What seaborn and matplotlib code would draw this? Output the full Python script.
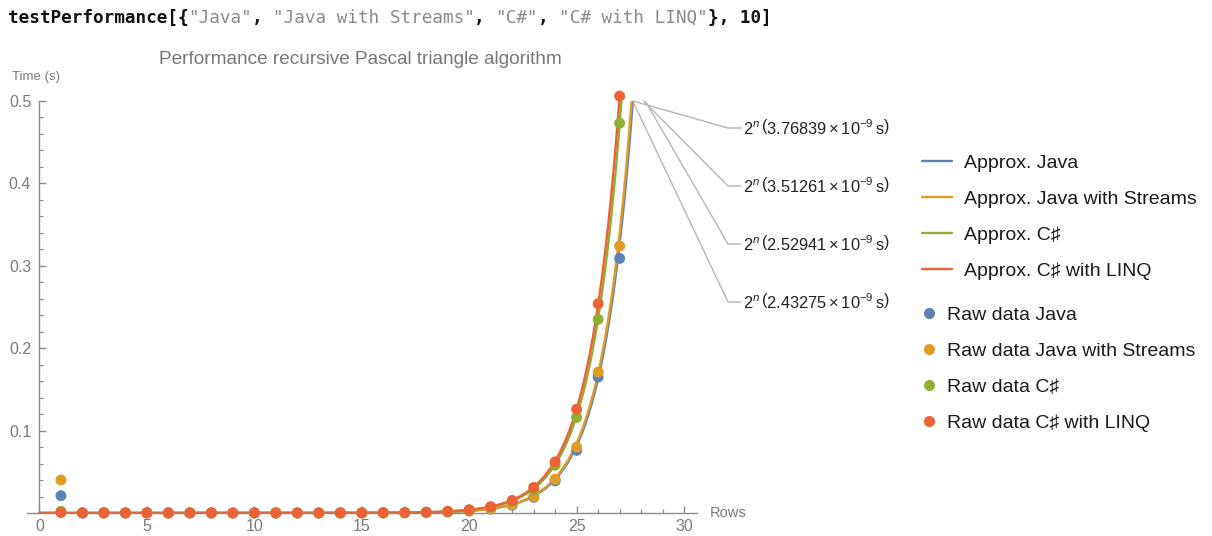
import numpy as np
import pandas as pd
import matplotlib
matplotlib.use("Agg")
import matplotlib.pyplot as plt
from matplotlib.lines import Line2D
from matplotlib.transforms import IdentityTransform
import seaborn as sns

# ---- data -------------------------------------------------------------
rows = list(range(1, 28))

java = [0.021, 0.0001, 0.0001, 0.0001, 0.0001, 0.0001, 0.0001, 0.0001, 0.0001,
        0.0001, 0.0001, 0.0001, 0.0001, 0.0001, 0.0001, 0.0002, 0.0003, 0.0006,
        0.0012, 0.0024, 0.0048, 0.0094, 0.019, 0.039, 0.076, 0.165, 0.309]
java_streams = [0.040, 0.0001, 0.0001, 0.0001, 0.0001, 0.0001, 0.0001, 0.0001, 0.0001,
                0.0001, 0.0001, 0.0001, 0.0001, 0.0001, 0.0001, 0.0002, 0.0003, 0.0007,
                0.0013, 0.0026, 0.0050, 0.0099, 0.020, 0.041, 0.080, 0.171, 0.324]
csharp = [0.002, 0.0001, 0.0001, 0.0001, 0.0001, 0.0001, 0.0001, 0.0001, 0.0001,
          0.0001, 0.0001, 0.0001, 0.0001, 0.0001, 0.0002, 0.0003, 0.0005, 0.0009,
          0.0018, 0.0036, 0.0071, 0.0141, 0.028, 0.058, 0.116, 0.235, 0.473]
csharp_linq = [0.0005, 0.0001, 0.0001, 0.0001, 0.0001, 0.0001, 0.0001, 0.0001, 0.0001,
               0.0001, 0.0001, 0.0001, 0.0001, 0.0001, 0.0002, 0.0003, 0.0005, 0.0010,
               0.0020, 0.0039, 0.0077, 0.0152, 0.031, 0.062, 0.126, 0.254, 0.506]

series_names = ["Java", "Java with Streams", "C\u266f", "C\u266f with LINQ"]
raw_values = [java, java_streams, csharp, csharp_linq]

# fitted constants of t(n) = 2^n * c
fit_consts = [2.43275e-9, 2.52941e-9, 3.51261e-9, 3.76839e-9]
fit_labels = ["3.76839", "3.51261", "2.52941", "2.43275"]   # top to bottom

colors = ["#5E81B5", "#E19C24", "#8FB032", "#EB6235"]

y_max = 0.5
x_lo, x_hi = -0.58, 30.6

# ---- frames for seaborn ------------------------------------------------
raw_df = pd.concat(
    [pd.DataFrame({"n": rows, "t": vals, "series": name})
     for name, vals in zip(series_names, raw_values)],
    ignore_index=True)

fit_frames = []
for name, c in zip(series_names, fit_consts):
    n_end = np.log2(y_max / c)
    n = np.linspace(0, n_end, 600)
    fit_frames.append(pd.DataFrame({"n": n, "t": c * 2.0 ** n, "series": name}))
fit_df = pd.concat(fit_frames, ignore_index=True)

palette = dict(zip(series_names, colors))

# ---- style ---------------------------------------------------------------
sns.set_style("white")
plt.rcParams["font.family"] = ["Liberation Sans", "DejaVu Sans"]
plt.rcParams["mathtext.fontset"] = "custom"
plt.rcParams["mathtext.rm"] = "Liberation Sans"
plt.rcParams["mathtext.it"] = "Liberation Sans:italic"

W, H = 1212, 536
fig = plt.figure(figsize=(W / 100, H / 100), dpi=100)

x0_px, x1_px = 27, 697
y0_px, y1_px = 513, 101
ax = fig.add_axes([x0_px / W, (H - y0_px) / H, (x1_px - x0_px) / W, (y0_px - y1_px) / H])

sns.lineplot(data=fit_df, x="n", y="t", hue="series", hue_order=series_names,
             palette=palette, linewidth=1.7, legend=False, ax=ax, sort=True)
sns.scatterplot(data=raw_df, x="n", y="t", hue="series", hue_order=series_names,
                palette=palette, s=62, edgecolor="none", linewidth=0,
                legend=False, ax=ax, clip_on=False, zorder=5)

ax.set_xlim(x_lo, x_hi)
ax.set_ylim(0, y_max)
ax.set_xlabel("")
ax.set_ylabel("")

axis_gray = "#8a8a8a"
label_gray = "#7a7a7a"
for side in ("top", "right"):
    ax.spines[side].set_visible(False)
ax.spines["left"].set_position(("data", 0))
for side in ("left", "bottom"):
    ax.spines[side].set_color(axis_gray)
    ax.spines[side].set_linewidth(1.0)

ax.set_xticks(np.arange(0, 31, 5))
ax.set_xticks(np.arange(0, 31, 1), minor=True)
ax.set_yticks([0.1, 0.2, 0.3, 0.4, 0.5])
ax.set_yticklabels(["0.1", "0.2", "0.3", "0.4", "0.5"])
ax.set_yticks(np.arange(0.02, 0.5, 0.02), minor=True)
ax.tick_params(axis="both", which="both", bottom=True, left=True, top=False, right=False)
ax.tick_params(axis="both", which="major", direction="in", length=5, width=1.0,
               color=axis_gray, labelcolor=label_gray, labelsize=11.5)
ax.tick_params(axis="both", which="minor", direction="in", length=3, width=0.9,
               color=axis_gray)
ax.tick_params(axis="x", which="major", pad=4)
ax.tick_params(axis="y", which="major", pad=6)
ax.set_facecolor("none")

# axis captions and title
fig.text(12 / W, 1 - 77 / H, "Time (s)", color=label_gray, fontsize=9.5,
         ha="left", va="center")
fig.text(710 / W, 1 - 513 / H, "Rows", color=label_gray, fontsize=10.5,
         ha="left", va="center")
fig.text(360 / W, 1 - 59 / H, "Performance recursive Pascal triangle algorithm",
         color="#777777", fontsize=13.7, ha="center", va="center")

# input line above the chart
code_tokens = [
    ("testPerformance[{", "#111111", "bold"),
    ('"Java"', "#8a8a8a", "normal"),
    (", ", "#111111", "bold"),
    ('"Java with Streams"', "#8a8a8a", "normal"),
    (", ", "#111111", "bold"),
    ('"C#"', "#8a8a8a", "normal"),
    (", ", "#111111", "bold"),
    ('"C# with LINQ"', "#8a8a8a", "normal"),
    ("}, 10]", "#111111", "bold"),
]
char_px = 10.6
code_size = char_px / 0.602 * 72 / 100
pos = 0
for tok, col, wt in code_tokens:
    fig.text((8 + pos * char_px) / W, 1 - 18 / H, tok, color=col, fontweight=wt,
             family="DejaVu Sans Mono", fontsize=code_size, ha="left", va="center")
    pos += len(tok)

# callout labels with leader lines
fig.canvas.draw()
n_anchor = np.log2(y_max / min(fit_consts))
anchor_dx = [0.0, 0.5, 0.6, 0.05]
anchor_y = [0.5, 0.5, 0.499, 0.497]
label_y_px = [128, 186, 244, 302]
for lab, dx, ay, ly in zip(fit_labels, anchor_dx, anchor_y, label_y_px):
    axp, ayp = ax.transData.transform((n_anchor + dx, ay))
    ty = H - ly
    fig.add_artist(Line2D([axp, 728, 741], [ayp, ty, ty], transform=IdentityTransform(),
                          color="#b5b5b5", linewidth=1.0))
    fig.text(743 / W, ty / H,
             r"$2^{n}\,\left(" + lab + r"\times10^{-9}\,\mathrm{s}\right)$",
             fontsize=11.8, color="#222222", ha="left", va="center")

# legends
line_handles = [Line2D([0], [0], color=c, linewidth=1.7) for c in colors]
dot_handles = [Line2D([0], [0], color=c, marker="o", linestyle="none", markersize=8,
                      markeredgewidth=0) for c in colors]

leg_kw = dict(loc="upper left", frameon=False, fontsize=14, labelspacing=0.95,
              borderpad=0, borderaxespad=0)
leg1 = fig.legend(line_handles, ["Approx. " + s for s in series_names],
                  bbox_to_anchor=(922 / W, 1 - 154 / H),
                  handlelength=1.55, handletextpad=0.62, **leg_kw)
leg2 = fig.legend(dot_handles, ["Raw data " + s for s in series_names],
                  bbox_to_anchor=(921 / W, 1 - 306 / H),
                  handlelength=0.8, handletextpad=0.55, **leg_kw)
for leg in (leg1, leg2):
    for t in leg.get_texts():
        t.set_color("#1a1a1a")

fig.savefig("out.png", dpi=100)
